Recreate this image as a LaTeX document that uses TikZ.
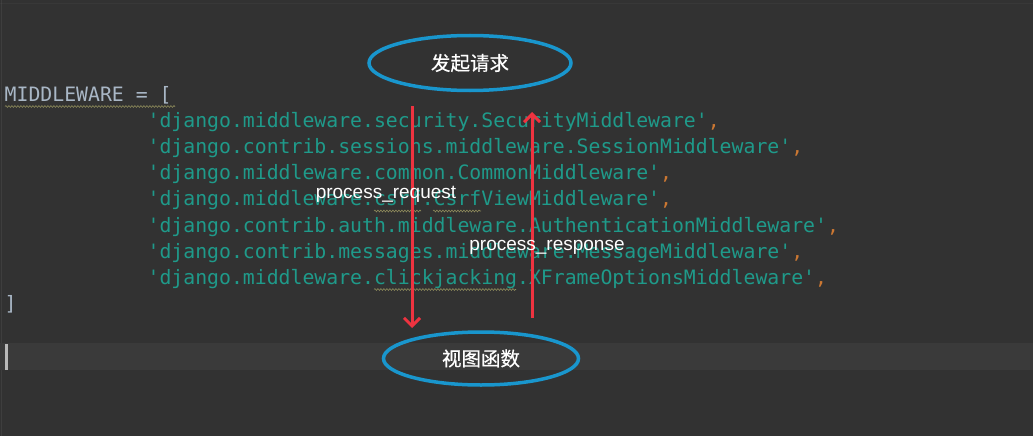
\documentclass[tikz,border=0pt]{standalone}
\usepackage{fontspec}
\setmainfont{Liberation Sans}
\setmonofont{DejaVu Sans Mono}
\newfontfamily\cjkfont{Noto Sans CJK SC}[FakeBold=0.6]
\usetikzlibrary{shapes.geometric,arrows.meta,decorations.pathmorphing}
\definecolor{bg}{HTML}{323232}
\definecolor{curline}{HTML}{3A3A3A}
\definecolor{codegray}{HTML}{A9B7C6}
\definecolor{strteal}{HTML}{1F9A8A}
\definecolor{commaor}{HTML}{CC7832}
\definecolor{wavecol}{HTML}{8F8C5C}
\definecolor{ellblue}{HTML}{1996CD}
\definecolor{arrred}{HTML}{EE3340}
\newcommand\codestr[1]{\textcolor{strteal}{#1}}
\newcommand\codecomma{\textcolor{commaor}{,}}
\tikzset{
  code/.style={anchor=base west, inner sep=0pt, font=\ttfamily\fontsize{19.8}{24}\selectfont},
  wavy/.style={draw=wavecol, line width=0.6pt, decorate, decoration={snake, amplitude=0.9pt, segment length=3pt}},
  bubble/.style={ellipse, draw=ellblue, line width=3.5pt, inner sep=0pt, text=white, font=\cjkfont\fontsize{19.5}{22}\selectfont},
  redarrow/.style={draw=arrred, line width=3pt, -{Straight Barb[length=8pt,width=16pt]}},
  lbl/.style={text=white, inner sep=0pt, font=\fontsize{19}{22}\selectfont}
}
\begin{document}
\begin{tikzpicture}[x=1pt,y=-1pt]
\fill[bg] (0,0) rectangle (1033,436);
\useasboundingbox (0,0) rectangle (1033,436);
% editor frame lines
\draw[color=black!70!white, line width=0.8pt, opacity=0.25] (0,3) -- (1033,3);
\draw[color=white, line width=0.8pt, opacity=0.06] (1.5,0) -- (1.5,436);
% current line highlight and cursor
\fill[curline] (0,343) rectangle (1033,370);
\fill[white!72!black] (4.7,344) rectangle (7.7,370);
% code
\node[code, text=codegray] (mw) at (4.5,101) {MIDDLEWARE = [};
\node[code] (l1) at (147.4,127.2) {\codestr{'django.middleware.security.SecurityMiddleware'}\codecomma};
\node[code] (l2) at (147.4,153.4) {\codestr{'django.contrib.sessions.middleware.SessionMiddleware'}\codecomma};
\node[code] (l3) at (147.4,179.6) {\codestr{'django.middleware.common.CommonMiddleware'}\codecomma};
\node[code] (l4) at (147.4,205.8) {\codestr{'django.middleware.csrf.CsrfViewMiddleware'}\codecomma};
\node[code] (l5) at (147.4,232.0) {\codestr{'django.contrib.auth.middleware.AuthenticationMiddleware'}\codecomma};
\node[code] (l6) at (147.4,258.2) {\codestr{'django.contrib.messages.middleware.MessageMiddleware'}\codecomma};
\node[code] (l7) at (147.4,284.4) {\codestr{'django.middleware.clickjacking.XFrameOptionsMiddleware'}\codecomma};
\node[code, text=codegray] (close) at (4.5,310.6) {]};
% wavy underlines
\draw[wavy] (5,106.5) -- (175,106.5);
\draw[wavy] (374,211) -- (421,211);
\draw[wavy] (433,211) -- (481,211);
\draw[wavy] (374,289.5) -- (516,289.5);
% ellipses
\node[bubble, minimum width=202pt, minimum height=55pt] (start) at (470,63) {发起请求};
\node[bubble, minimum width=195pt, minimum height=53pt] (view) at (481,358.5) {视图函数};
% arrows
\coordinate (reqtop) at (412,106);
\coordinate (reqbot) at (412,328);
\coordinate (resbot) at (532,318);
\coordinate (restop) at (532,112);
\draw[redarrow] (reqtop) -- (reqbot);
\draw[redarrow] (resbot) -- (restop);
% labels
\node[lbl] (preq) at (386,194) {process\_request};
\node[lbl] (pres) at (547,247) {process\_response};
\end{tikzpicture}
\end{document}
